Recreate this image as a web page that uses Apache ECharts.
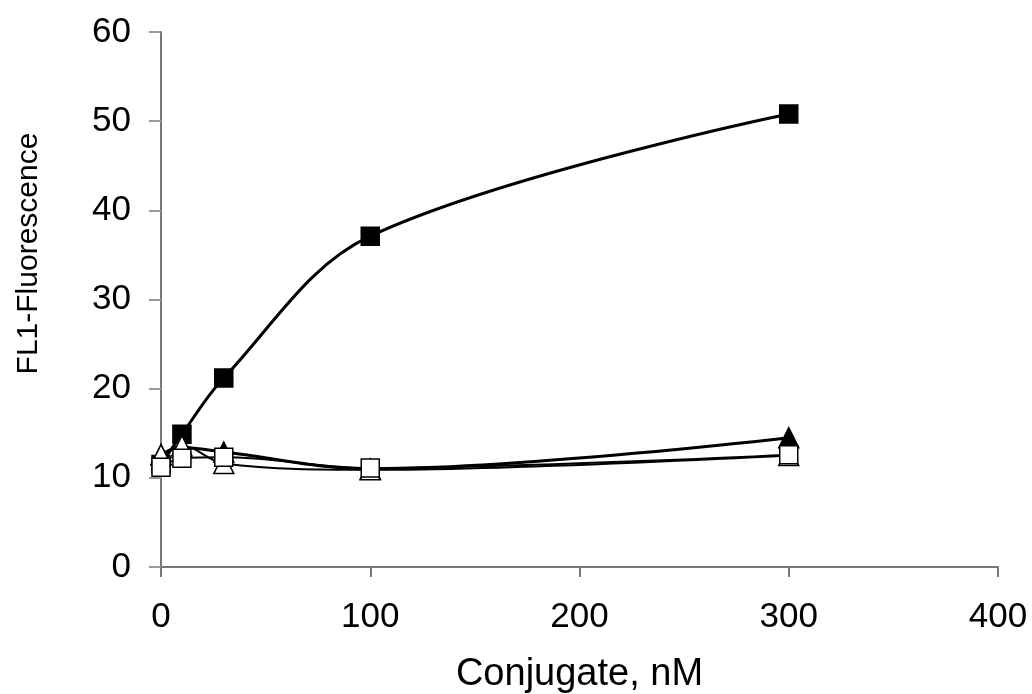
<!DOCTYPE html>
<html>
<head>
<meta charset="utf-8">
<script src="https://cdn.jsdelivr.net/npm/echarts@6/dist/echarts.min.js"></script>
<style>
  html, body { margin: 0; padding: 0; background: #fff; }
  #chart { width: 1032px; height: 694px; }
</style>
</head>
<body>
<div id="chart"></div>
<script>
// concentrations, nM
const conc = [0, 10, 30, 100, 300]
const filledSquare = [11.5, 14.9, 21.2, 37.1, 50.8]
const filledTriangle = [12.6, 13.4, 12.9, 11.0, 14.5]
const openTriangle = [12.6, 13.6, 11.6, 10.9, 12.5]
const openSquare = [11.2, 12.2, 12.3, 11.1, 12.6]
const xTicks = [0, 100, 200, 300, 400]
const yTicks = [0, 10, 20, 30, 40, 50, 60]

const font = 'Liberation Sans, Arial, sans-serif'

function pts(ys) {
  return conc.map((x, i) => [x, ys[i]])
}

function line(name, ys, symbol, filled, width, z) {
  return {
    name: name,
    type: 'line',
    data: pts(ys),
    smooth: 0.35,
    symbol: symbol,
    symbolSize: symbol === 'rect' ? 18 : 20,
    z: z,
    lineStyle: { color: '#000', width: width },
    itemStyle: {
      color: filled ? '#000' : '#fff',
      borderColor: '#000',
      borderWidth: 1.5
    },
    animation: false
  }
}

const chart = echarts.init(document.getElementById('chart'))
chart.setOption({
  backgroundColor: '#fff',
  grid: { left: 161, right: 34, top: 32, bottom: 127, outerBoundsMode: 'none' },
  xAxis: {
    type: 'value',
    min: xTicks[0],
    max: xTicks[xTicks.length - 1],
    interval: 100,
    name: 'Conjugate, nM',
    nameLocation: 'middle',
    nameGap: 89,
    nameTextStyle: { fontFamily: font, fontSize: 38, color: '#000' },
    axisLine: { lineStyle: { color: '#777', width: 2 } },
    axisTick: { show: true, length: 10, lineStyle: { color: '#777', width: 2 } },
    axisLabel: { fontFamily: font, fontSize: 35, color: '#000', margin: 33 },
    splitLine: { show: false }
  },
  yAxis: {
    type: 'value',
    min: yTicks[0],
    max: yTicks[yTicks.length - 1],
    interval: 10,
    name: 'FL1-Fluorescence',
    nameLocation: 'middle',
    nameGap: 117,
    nameTextStyle: { fontFamily: font, fontSize: 30, color: '#000', padding: [0, 0, 0, 92] },
    axisLine: { show: true, lineStyle: { color: '#777', width: 2 } },
    axisTick: { show: true, length: 12, lineStyle: { color: '#999', width: 2 } },
    axisLabel: { fontFamily: font, fontSize: 35, color: '#000', margin: 30 },
    splitLine: { show: false }
  },
  series: [
    line('filled triangle', filledTriangle, 'triangle', true, 3, 2),
    line('filled square', filledSquare, 'rect', true, 3, 3),
    line('open triangle', openTriangle, 'triangle', false, 2, 4),
    line('open square', openSquare, 'rect', false, 2, 5)
  ]
})
</script>
</body>
</html>
